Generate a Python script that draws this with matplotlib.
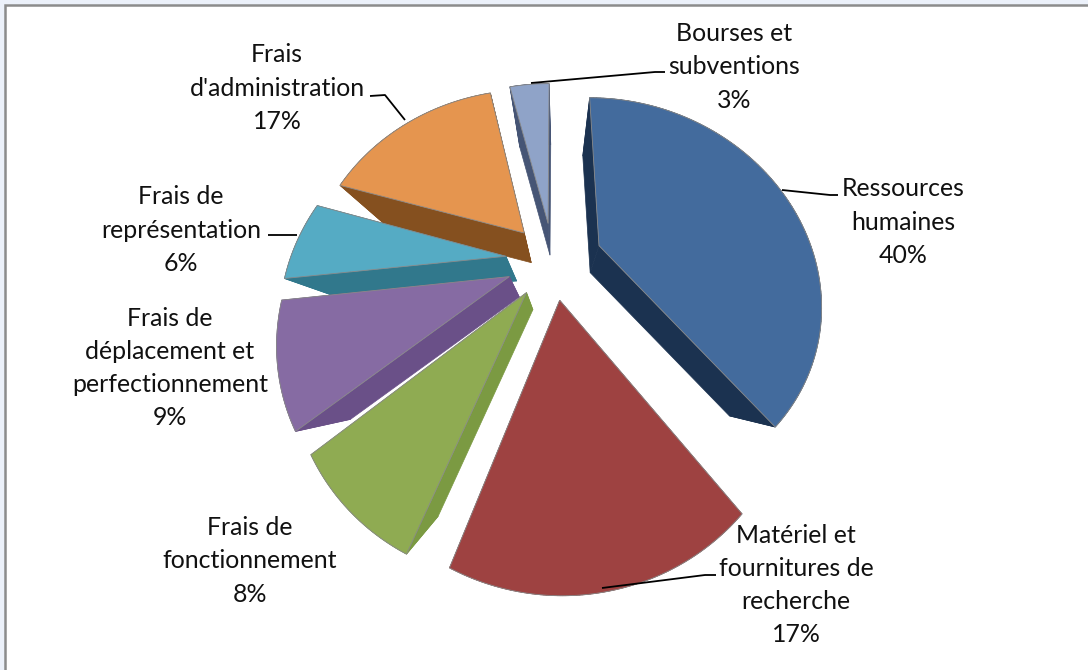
import numpy as np
import matplotlib
matplotlib.use("Agg")
import matplotlib.pyplot as plt
from matplotlib.patches import Rectangle
from matplotlib.transforms import Transform

categories = ["Ressources\nhumaines", "Matériel et\nfournitures de\nrecherche",
              "Frais de\nfonctionnement", "Frais de\ndéplacement et\nperfectionnement",
              "Frais de\nreprésentation", "Frais\nd'administration",
              "Bourses et\nsubventions"]
percent_labels = [40, 17, 8, 9, 6, 17, 3]
# slice sizes, the printed labels are rounded
slice_sizes = [39.3, 16.7, 8, 9.2, 6.4, 16.6, 3.8]

top_colors = ["#436b9d", "#9e4241", "#8fab52", "#866ba3", "#55abc4", "#e5954f", "#8fa3c8"]
side_colors = ["#1b3250", "#7d3433", "#7b9a42", "#6a5088", "#31788c", "#85501f", "#465575"]
explode = [0.23, 0.2, 0.2, 0.215, 0.22, 0.2, 0.2]

label_xy = [(903, 222), (796, 585), (250, 561), (170, 368), (181, 230), (277, 88), (734, 67)]
leaders = [[(782, 190), (830, 195), (838, 195)],
           [(602, 588), (705, 575), (716, 575)],
           [(268, 235), (297, 235)],
           [(370, 96), (385, 95), (405, 120)],
           [(531, 83), (655, 72), (665, 72)]]

# tilted disc seen with perspective, pixels
CX, CY = 553, 260
FX, FY = 216, 193
K = 0.26
# the extruded lower face shrinks toward this point
VP = np.array([557.0, 374.0])
DEPTH = 0.79


class PieTilt(Transform):
    input_dims = 2
    output_dims = 2

    def transform_non_affine(self, values):
        values = np.asarray(values, dtype=float)
        d = 1 + K * values[:, 1]
        return np.column_stack([CX + FX * values[:, 0] / d, CY - FY * values[:, 1] / d])


plt.rcParams["font.family"] = ["Lato", "DejaVu Sans"]
fig = plt.figure(figsize=(10.88, 6.7), dpi=100, facecolor="#ecf1fa")
ax = fig.add_axes([0, 0, 1, 1])

wedges, _ = ax.pie(slice_sizes, explode=explode, colors=top_colors, startangle=90,
                   counterclock=False)
ax.set_aspect("auto")
ax.set_xlim(0, 1088)
ax.set_ylim(670, 0)
ax.axis("off")

ax.add_patch(Rectangle((5, 5), 1090, 670, facecolor="white", edgecolor="#8c8c8c",
                       linewidth=1.8, zorder=0))

tilt = PieTilt()
# back to front so the nearer slices sit on top
order = [6, 5, 4, 3, 2, 1, 0]
for n, i in enumerate(order):
    w = wedges[i]
    a = np.radians(np.linspace(w.theta1, w.theta2, 120))
    arc = np.column_stack([w.center[0] + w.r * np.cos(a), w.center[1] + w.r * np.sin(a)])
    top = tilt.transform(np.vstack([w.center, arc, w.center]))
    low = VP + DEPTH * (top - VP)
    for j in range(len(top) - 1):
        ax.fill([top[j, 0], top[j + 1, 0], low[j + 1, 0], low[j, 0]],
                [top[j, 1], top[j + 1, 1], low[j + 1, 1], low[j, 1]],
                color=side_colors[i], linewidth=0.5, zorder=2 + 2 * n)
    ax.fill(top[:, 0], top[:, 1], facecolor=top_colors[i], edgecolor="#8a8a8a",
            linewidth=0.6, zorder=3 + 2 * n)
    w.remove()

for line in leaders:
    xs, ys = zip(*line)
    ax.plot(xs, ys, color="black", linewidth=1.3, zorder=30, solid_capstyle="butt")

for name, pct, (x, y) in zip(categories, percent_labels, label_xy):
    ax.text(x, y, f"{name}\n{pct}%", ha="center", va="center", fontsize=17.9,
            color="#111111", linespacing=1.53, zorder=31)

fig.savefig("out.png", dpi=100, facecolor=fig.get_facecolor())
